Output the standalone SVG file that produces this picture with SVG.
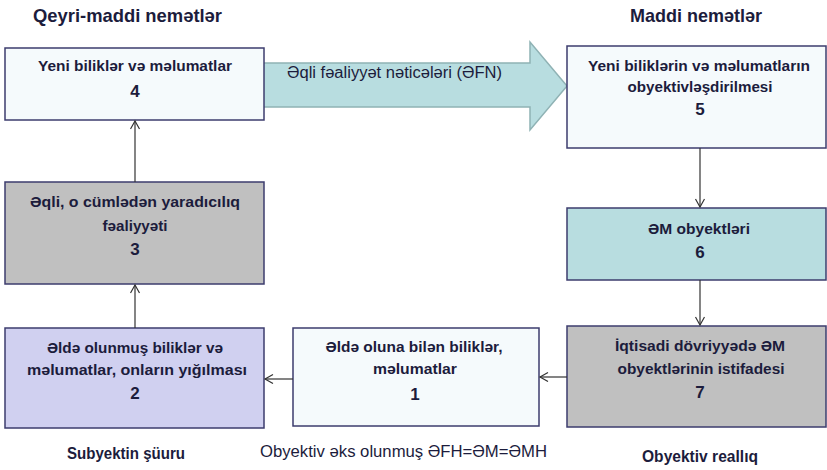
<svg xmlns="http://www.w3.org/2000/svg" width="827" height="470" viewBox="0 0 827 470">
<style>
.box{stroke:#3c3c6e;stroke-width:1.5}
.t{font-family:"Liberation Sans",Arial,sans-serif;font-weight:bold;font-size:15px;fill:#1c1c3c;text-anchor:middle}
.n{font-family:"Liberation Sans",Arial,sans-serif;font-weight:bold;font-size:17px;fill:#1c1c3c;text-anchor:middle}
.h{font-family:"Liberation Sans",Arial,sans-serif;font-weight:bold;font-size:19px;fill:#1c1c3c}
.c{font-family:"Liberation Sans",Arial,sans-serif;font-weight:bold;font-size:17px;fill:#1c1c3c}
.r{font-family:"Liberation Sans",Arial,sans-serif;font-size:16px;fill:#1c1c3c}
.ln{stroke:#333;stroke-width:1.2;fill:none;marker-end:url(#ah)}
</style>
<defs>
<marker id="ah" markerUnits="userSpaceOnUse" markerWidth="12" markerHeight="12" refX="9" refY="5" orient="auto">
<path d="M1,0.5 L9,5 L1,9.5" fill="none" stroke="#333" stroke-width="1.2"/>
</marker>
</defs>
<rect width="827" height="470" fill="#fff"/>
<g id="headers">
<text class="h" x="33" y="22" textLength="189" lengthAdjust="spacingAndGlyphs">Qeyri-maddi nemətlər</text>
<text class="h" x="630" y="22" textLength="132" lengthAdjust="spacingAndGlyphs">Maddi nemətlər</text>
<text class="c" x="67" y="459" textLength="118" lengthAdjust="spacingAndGlyphs">Subyektin şüuru</text>
<text class="r" x="260" y="457" textLength="287" lengthAdjust="spacingAndGlyphs">Obyektiv əks olunmuş ƏFH=ƏM=ƏMH</text>
<text class="c" x="642" y="462" textLength="116" lengthAdjust="spacingAndGlyphs">Obyektiv reallıq</text>
</g>
<g id="bigarrow">
<path d="M263,63 L530,63 L530,42 L567,86 L530,130 L530,107 L263,107 Z" fill="#b8dde0" stroke="#8fb2b4" stroke-width="1.5"/>
<text class="t" style="text-anchor:start;font-weight:normal;font-size:16px" x="287" y="78" textLength="215" lengthAdjust="spacingAndGlyphs">Əqli fəaliyyət nəticələri (ƏFN)</text>
</g>
<g id="node4">
<rect class="box" x="5" y="48" width="259" height="72" fill="#f5fafc"/>
<text class="t" x="135" y="71" textLength="194" lengthAdjust="spacingAndGlyphs">Yeni biliklər və məlumatlar</text>
<text class="n" x="135" y="97">4</text>
</g>
<g id="node3">
<rect class="box" x="5" y="182" width="259" height="102" fill="#c0c0c0"/>
<text class="t" x="135" y="207" textLength="210" lengthAdjust="spacingAndGlyphs">Əqli, o cümlədən yaradıcılıq</text>
<text class="t" x="135" y="231" textLength="65" lengthAdjust="spacingAndGlyphs">fəaliyyəti</text>
<text class="n" x="135" y="255">3</text>
</g>
<g id="node2">
<rect class="box" x="5" y="328" width="259" height="100" fill="#d0d0f0"/>
<text class="t" x="135" y="353" textLength="176" lengthAdjust="spacingAndGlyphs">Əldə olunmuş biliklər və</text>
<text class="t" x="137" y="375" textLength="220" lengthAdjust="spacingAndGlyphs">məlumatlar, onların yığılması</text>
<text class="n" x="135" y="399">2</text>
</g>
<g id="node1">
<rect class="box" x="293" y="328" width="246" height="98" fill="#f5fafc"/>
<text class="t" x="414" y="352" textLength="177" lengthAdjust="spacingAndGlyphs">Əldə oluna bilən biliklər,</text>
<text class="t" x="415" y="374" textLength="84" lengthAdjust="spacingAndGlyphs">məlumatlar</text>
<text class="n" x="415" y="400">1</text>
</g>
<g id="node5">
<rect class="box" x="567" y="46" width="259" height="102" fill="#f5fafc"/>
<text class="t" x="699" y="71" textLength="222" lengthAdjust="spacingAndGlyphs">Yeni biliklərin və məlumatların</text>
<text class="t" x="700" y="92" textLength="145" lengthAdjust="spacingAndGlyphs">obyektivləşdirilmesi</text>
<text class="n" x="700" y="115">5</text>
</g>
<g id="node6">
<rect class="box" x="567" y="208" width="259" height="72" fill="#b8dde0"/>
<text class="t" x="699" y="234" textLength="102" lengthAdjust="spacingAndGlyphs">ƏM obyektləri</text>
<text class="n" x="700" y="258">6</text>
</g>
<g id="node7">
<rect class="box" x="567" y="326" width="259" height="101" fill="#c0c0c0"/>
<text class="t" x="700" y="351" textLength="170" lengthAdjust="spacingAndGlyphs">İqtisadi dövriyyədə ƏM</text>
<text class="t" x="701" y="374" textLength="167" lengthAdjust="spacingAndGlyphs">obyektlərinin istifadesi</text>
<text class="n" x="700" y="398">7</text>
</g>
<g id="connectors">
<line class="ln" x1="135" y1="182" x2="135" y2="121"/>
<line class="ln" x1="135" y1="328" x2="135" y2="285"/>
<line class="ln" x1="293" y1="379" x2="265" y2="379"/>
<line class="ln" x1="567" y1="377" x2="540" y2="377"/>
<line class="ln" x1="700" y1="148" x2="700" y2="207"/>
<line class="ln" x1="700" y1="280" x2="700" y2="325"/>
</g>
</svg>
